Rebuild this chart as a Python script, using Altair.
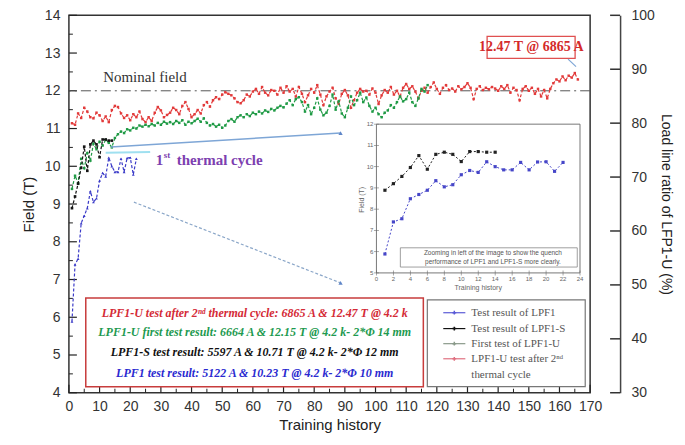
import altair as alt
import pandas as pd

# ---------------- data ----------------
lpf1 = [5.89, 7.40, 7.55, 8.49, 8.69, 8.89, 9.34, 9.05, 9.15, 9.62, 9.82, 9.73,
        10.23, 10.00, 9.85, 9.85, 10.20, 9.85, 10.22, 10.23, 9.78, 10.20]
lpf1s = [8.89, 9.20, 9.54, 9.96, 10.52, 9.88, 10.58, 10.68, 10.58, 10.24, 10.71,
         10.71, 10.68, 10.68]
lpf1u_first = [
    9.40, 9.75, 9.55, 10.20, 9.95, 10.35, 10.15, 10.60, 10.45, 10.65,
    10.55, 10.70, 10.62, 10.50, 10.75, 10.85, 10.92, 10.88, 10.98, 10.95,
    11.02, 11.00, 11.08, 11.05, 11.10, 11.06, 11.12, 11.08, 11.15, 11.10,
    11.18, 11.13, 11.17, 11.12, 11.20, 11.15, 11.22, 11.10, 11.18, 11.14,
    11.20, 11.26, 11.18, 11.27, 11.15, 11.08, 11.12, 11.05, 11.10, 11.02,
    11.08, 11.20, 11.25, 11.18, 11.30, 11.35, 11.30, 11.38, 11.33, 11.42,
    11.38, 11.45, 11.40, 11.48, 11.44, 11.52, 11.48, 11.55, 11.60, 11.56,
    11.66, 11.75, 11.62, 11.78, 11.83, 11.70, 11.45, 11.62, 11.38, 11.55,
    11.80, 11.50, 11.35, 11.42, 11.60, 11.90, 11.50, 11.72, 11.40, 11.30,
    11.55, 11.85, 11.62, 11.75, 11.95, 11.70, 11.82, 11.60, 11.45, 11.55,
    11.38, 11.30, 11.42, 11.48, 11.62, 11.55, 11.70, 11.85, 11.72, 11.78,
    11.95, 11.70, 11.60, 11.80, 12.05, 11.98, 12.15]
lpf1u_second = [
    11.14, 11.10, 11.40, 11.28, 11.55, 11.45, 11.30, 11.27, 11.42, 11.35,
    11.20, 11.32, 11.17, 11.49, 11.60, 11.57, 11.40, 11.28, 11.35, 11.22,
    11.38, 11.30, 11.45, 11.25, 11.17, 11.30, 11.20, 11.42, 11.57, 11.48,
    11.30, 11.36, 11.42, 11.55, 11.49, 11.38, 11.60, 11.70, 11.52, 11.30,
    11.38, 11.49, 11.40, 11.62, 11.70, 11.58, 11.75, 11.83, 11.78, 11.90,
    11.96, 11.92, 11.88, 11.80, 11.70, 11.67, 11.75, 11.90, 11.85, 11.98,
    12.05, 11.92, 12.10, 11.95, 11.88, 12.02, 12.00, 11.90, 12.08, 11.95,
    12.12, 11.98, 12.05, 11.85, 12.10, 11.92, 11.70, 11.88, 12.05, 11.95,
    12.15, 11.90, 11.62, 11.85, 11.98, 12.08, 11.80, 11.65, 11.92, 12.02,
    11.88, 11.55, 11.75, 11.95, 12.05, 11.98, 12.00, 11.90, 12.06, 11.95,
    11.65, 11.88, 12.02, 11.95, 12.10, 11.90, 12.00, 11.85, 12.08, 12.18,
    12.05, 12.12, 11.98, 11.80, 12.00, 12.08, 11.95, 12.10, 12.22, 12.05,
    11.92, 12.08, 12.15, 12.02, 12.06, 11.98, 12.12, 12.04, 12.10, 12.20,
    12.08, 11.78, 12.05, 12.12, 12.02, 12.08, 12.04, 12.10, 12.06, 12.00,
    12.12, 12.05, 12.15, 11.95, 12.08, 12.02, 11.75, 12.05, 12.12, 12.00,
    12.08, 11.92, 12.05, 11.85, 12.02, 11.80, 12.05, 12.20, 12.30, 12.25,
    12.38, 12.28, 12.40, 12.35, 12.47, 12.30]
nominal_field = 12.0

x_major = list(range(0, 171, 10))
x_minor = list(range(5, 170, 10))
y_major = list(range(4, 15))
y_minor = [v + 0.5 for v in range(4, 14)]
ratio_ticks = list(range(30, 101, 10))
inset_xticks = list(range(0, 25, 2))
inset_yticks = list(range(5, 13))

box_lines = [
    "LPF1-U test after 2ⁿᵈ thermal cycle: 6865 A & 12.47 T @ 4.2 k",
    "LPF1-U first test result: 6664 A & 12.15 T @ 4.2 k- 2*Φ 14 mm",
    "LPF1-S test result: 5597 A & 10.71 T @ 4.2 k- 2*Φ 12 mm",
    "LPF1 test result: 5122 A & 10.23 T @ 4.2 k- 2*Φ 10 mm",
]
legend_labels = ["Test result of LPF1", "Test result of LPF1-S",
                 "First test of LPF1-U", "LPF1-U test after 2ⁿᵈ"]
note_lines = ["Zooming in left of the image to show the quench",
              "performance of LPF1 and LPF1-S more clearly."]

# ---------------- layout ----------------
W, H = 522, 378
SANS = "Liberation Sans"
SERIF = "Liberation Serif"
RED, GREEN, BLACK, BLUE = "#e23a3a", "#1f9a45", "#151515", "#3b3bc8"

xs = alt.Scale(domain=[0, 170], nice=False, zero=False)
ys = alt.Scale(domain=[4, 14], nice=False, zero=False)


def XQ(f):
    return alt.X(f"{f}:Q", scale=xs, axis=None)


def YQ(f):
    return alt.Y(f"{f}:Q", scale=ys, axis=None)


layers = []

# axes + inward ticks
x_axis = alt.Axis(values=x_major, ticks=False, domain=False, grid=False,
                  labelFont=SANS, labelFontSize=14, labelColor="#333",
                  labelPadding=7, labelFlush=False,
                  title="Training history", titleFont=SANS, titleFontSize=15,
                  titleFontWeight="normal", titleColor="#222", titlePadding=4)
y_axis = alt.Axis(values=y_major, ticks=False, domain=False, grid=False,
                  labelFont=SANS, labelFontSize=14, labelColor="#333",
                  labelPadding=9, labelFlush=False,
                  title="Field (T)", titleFont=SANS, titleFontSize=15,
                  titleFontWeight="normal", titleColor="#222", titlePadding=8)

layers.append(alt.Chart(pd.DataFrame({"v": y_major})).mark_rule(color="#222", strokeWidth=1.2)
              .encode(y=alt.Y("v:Q", scale=ys, axis=y_axis), x=alt.value(0), x2=alt.value(8)))
layers.append(alt.Chart(pd.DataFrame({"v": y_minor})).mark_rule(color="#222", strokeWidth=1)
              .encode(y=YQ("v"), x=alt.value(0), x2=alt.value(4)))
layers.append(alt.Chart(pd.DataFrame({"v": x_major})).mark_rule(color="#222", strokeWidth=1.2)
              .encode(x=alt.X("v:Q", scale=xs, axis=x_axis), y=alt.value(H), y2=alt.value(H - 8)))
layers.append(alt.Chart(pd.DataFrame({"v": x_minor})).mark_rule(color="#222", strokeWidth=1)
              .encode(x=XQ("v"), y=alt.value(H), y2=alt.value(H - 4)))

# nominal field line
layers.append(alt.Chart(pd.DataFrame({"v": [nominal_field]}))
              .mark_rule(color="#555", strokeDash=[10, 4, 2, 4], strokeWidth=1)
              .encode(y=YQ("v")))
layers.append(alt.Chart(pd.DataFrame({"x": [24.8], "y": [12.36], "t": ["Nominal field"]}))
              .mark_text(font=SERIF, fontSize=15, color="#333")
              .encode(x=XQ("x"), y=YQ("y"), text="t:N"))


def series(vals, color, dash, shape, size, width=1.2):
    df = pd.DataFrame({"x": list(range(1, len(vals) + 1)), "y": vals})
    base = alt.Chart(df).encode(x=XQ("x"), y=YQ("y"))
    return [base.mark_line(color=color, strokeDash=dash, strokeWidth=width),
            base.mark_point(color=color, filled=True, shape=shape, size=size, opacity=1)]


layers += series(lpf1u_second, RED, [3, 2], "square", 6)
layers += series(lpf1u_first, GREEN, [3, 2], "square", 6)
layers += series(lpf1s, BLACK, [3, 2], "square", 7)
layers += series(lpf1, BLUE, [3, 2], "triangle-up", 8)

# arrows towards the inset
arrow1 = pd.DataFrame({"x": [13.7, 88.6], "y": [10.51, 10.88]})
arrow2 = pd.DataFrame({"x": [21.2, 88.6], "y": [9.05, 6.91]})
layers.append(alt.Chart(pd.DataFrame({"x": [12.0, 26.5], "y": [10.36, 10.38]}))
              .mark_line(color="#9fe0f0", strokeWidth=2).encode(x=XQ("x"), y=YQ("y")))
layers.append(alt.Chart(arrow1).mark_line(color="#7ea6d6", strokeWidth=1.5)
              .encode(x=XQ("x"), y=YQ("y")))
layers.append(alt.Chart(arrow2).mark_line(color="#8aa6c8", strokeWidth=1.2, strokeDash=[3, 2])
              .encode(x=XQ("x"), y=YQ("y")))
ends = pd.DataFrame({"x": [88.6, 88.6], "y": [10.88, 6.91]})
layers.append(alt.Chart(ends).mark_point(shape="triangle-up", filled=True, size=18,
                                          color="#5f86c8", opacity=1)
              .encode(x=XQ("x"), y=YQ("y")))

# 1st thermal cycle
tc = pd.DataFrame({"x": [28.3], "y": [10.16]})
PURPLE = "#7d3fb0"
layers.append(alt.Chart(tc).mark_text(text="1", font=SERIF, fontWeight="bold", fontSize=15,
                                      color=PURPLE, align="left")
              .encode(x=XQ("x"), y=YQ("y")))
layers.append(alt.Chart(tc).mark_text(text="st", font=SERIF, fontWeight="bold", fontSize=9,
                                      color=PURPLE, align="left", dx=8, dy=-5)
              .encode(x=XQ("x"), y=YQ("y")))
layers.append(alt.Chart(tc).mark_text(text="thermal cycle", font=SERIF, fontWeight="bold",
                                      fontSize=15, color=PURPLE, align="left", dx=21)
              .encode(x=XQ("x"), y=YQ("y")))

# 12.47 T @ 6865 A box
layers.append(alt.Chart(pd.DataFrame({"x": [136.4], "x2": [165.1], "y": [12.86], "y2": [13.44]}))
              .mark_rect(fill="white", stroke="#e05050", strokeWidth=1.3)
              .encode(x=XQ("x"), x2="x2:Q", y=YQ("y"), y2="y2:Q"))
layers.append(alt.Chart(pd.DataFrame({"x": [150.8], "y": [13.15], "t": ["12.47 T @ 6865 A"]}))
              .mark_text(font=SERIF, fontWeight="bold", fontSize=14, color="#d42a2a")
              .encode(x=XQ("x"), y=YQ("y"), text="t:N"))
layers.append(alt.Chart(pd.DataFrame({"x": [162.8, 165.4], "y": [12.84, 12.64]}))
              .mark_line(color="#7ea6d6", strokeWidth=1.2).encode(x=XQ("x"), y=YQ("y")))

# ---------------- inset ----------------
IX0, IX1 = 100.3, 166.7      # inset x 0..24 in main units
IY0, IY1 = 7.175, 11.116     # inset y 5..12 in main units
KX = (IX1 - IX0) / 24
KY = (IY1 - IY0) / 7


def icalc(ch, xf, yf):
    return ch.transform_calculate(mx=f"{IX0} + datum.{xf} * {KX}",
                                  my=f"{IY0} + (datum.{yf} - 5) * {KY}")


layers.append(alt.Chart(pd.DataFrame({"x": [IX0], "x2": [IX1], "y": [IY0], "y2": [IY1]}))
              .mark_rect(fill="white", stroke="#777", strokeWidth=1)
              .encode(x=XQ("x"), x2="x2:Q", y=YQ("y"), y2="y2:Q"))
ixt = pd.DataFrame({"ix": inset_xticks, "iy": [5] * len(inset_xticks),
                    "t": [str(v) for v in inset_xticks]})
iyt = pd.DataFrame({"ix": [0] * len(inset_yticks), "iy": inset_yticks,
                    "t": [str(v) for v in inset_yticks]})
layers.append(icalc(alt.Chart(ixt), "ix", "iy").mark_tick(orient="vertical", size=5, color="#666",
                                                          thickness=0.8)
              .encode(x=XQ("mx"), y=YQ("my")))
layers.append(icalc(alt.Chart(iyt), "ix", "iy").mark_tick(orient="horizontal", size=5, color="#666",
                                                          thickness=0.8)
              .encode(x=XQ("mx"), y=YQ("my")))
layers.append(icalc(alt.Chart(ixt), "ix", "iy").mark_text(font=SANS, fontSize=6, color="#666",
                                                          baseline="top", dy=3)
              .encode(x=XQ("mx"), y=YQ("my"), text="t:N"))
layers.append(icalc(alt.Chart(iyt), "ix", "iy").mark_text(font=SANS, fontSize=6, color="#666",
                                                          align="right", dx=-3)
              .encode(x=XQ("mx"), y=YQ("my"), text="t:N"))
layers.append(alt.Chart(pd.DataFrame({"x": [95.6], "y": [9.11], "t": ["Field (T)"]}))
              .mark_text(font=SANS, fontSize=7, color="#666", angle=270)
              .encode(x=XQ("x"), y=YQ("y"), text="t:N"))
layers.append(alt.Chart(pd.DataFrame({"x": [133.5], "y": [6.77], "t": ["Training history"]}))
              .mark_text(font=SANS, fontSize=7, color="#666")
              .encode(x=XQ("x"), y=YQ("y"), text="t:N"))

for vals, color, shape in [(lpf1s, "#222", "square"), (lpf1, "#4646c8", "square")]:
    d = pd.DataFrame({"ix": list(range(1, len(vals) + 1)), "iy": vals})
    b = icalc(alt.Chart(d), "ix", "iy").encode(x=XQ("mx"), y=YQ("my"))
    layers.append(b.mark_line(color=color, strokeDash=[2, 2], strokeWidth=1))
    layers.append(b.mark_point(color=color, filled=True, shape=shape, size=10, opacity=1))

layers.append(alt.Chart(pd.DataFrame({"x": [108.1], "x2": [165.8], "y": [7.33], "y2": [7.84]}))
              .mark_rect(fill="white", stroke="#888", strokeWidth=0.8)
              .encode(x=XQ("x"), x2="x2:Q", y=YQ("y"), y2="y2:Q"))
layers.append(alt.Chart(pd.DataFrame({"x": [138.3, 138.3], "y": [7.70, 7.47], "t": note_lines}))
              .mark_text(font=SANS, fontSize=6.5, color="#555")
              .encode(x=XQ("x"), y=YQ("y"), text="t:N"))

# ---------------- red text box ----------------
layers.append(alt.Chart(pd.DataFrame({"x": [5.5], "x2": [115.6], "y": [4.16], "y2": [6.51]}))
              .mark_rect(fill="white", stroke="#c83c3c", strokeWidth=1.5)
              .encode(x=XQ("x"), x2="x2:Q", y=YQ("y"), y2="y2:Q"))
box_df = pd.DataFrame({"x": [60.6] * 4, "y": [6.12, 5.61, 5.08, 4.53], "t": box_lines,
                       "c": ["#d42a36", "#1e9a50", "#111111", "#2a2ad0"]})
layers.append(alt.Chart(box_df).mark_text(font=SERIF, fontStyle="italic", fontWeight="bold",
                                          fontSize=12)
              .encode(x=XQ("x"), y=YQ("y"), text="t:N", color=alt.Color("c:N", scale=None)))

# ---------------- legend box ----------------
layers.append(alt.Chart(pd.DataFrame({"x": [116.9], "x2": [168.4], "y": [4.16], "y2": [6.46]}))
              .mark_rect(fill="white", stroke="#777", strokeWidth=1.2)
              .encode(x=XQ("x"), x2="x2:Q", y=YQ("y"), y2="y2:Q"))
leg = pd.DataFrame({"x": [122.1] * 4, "x2": [129.3] * 4, "xm": [125.7] * 4,
                    "y": [6.12, 5.70, 5.30, 4.90], "t": legend_labels,
                    "c": ["#5a5ad6", "#111111", "#8a9a8a", "#e07080"]})
layers.append(alt.Chart(leg).mark_rule(strokeWidth=1.2)
              .encode(x=XQ("x"), x2="x2:Q", y=YQ("y"), color=alt.Color("c:N", scale=None)))
layers.append(alt.Chart(leg).mark_point(shape="cross", filled=True, size=14, opacity=1)
              .encode(x=XQ("xm"), y=YQ("y"), color=alt.Color("c:N", scale=None)))
layers.append(alt.Chart(leg).mark_text(font=SERIF, fontSize=11, color="#555", align="left", dx=6)
              .encode(x=XQ("x2"), y=YQ("y"), text="t:N"))
layers.append(alt.Chart(pd.DataFrame({"x": [129.3], "y": [4.48], "t": ["thermal cycle"]}))
              .mark_text(font=SERIF, fontSize=11, color="#555", align="left", dx=6)
              .encode(x=XQ("x"), y=YQ("y"), text="t:N"))

# ---------------- right axis (load line ratio) ----------------
r_axis = alt.Axis(orient="right", offset=30, values=ratio_ticks, ticks=False, grid=False,
                  domain=True, domainColor="#444", domainWidth=1.5,
                  labelFont=SANS, labelFontSize=14, labelColor="#333", labelPadding=11,
                  labelFlush=False,
                  title="Load line ratio of LFP1-U (%)", titleFont=SANS, titleFontSize=14,
                  titleFontWeight="normal", titleColor="#222", titlePadding=4)
layers.append(alt.Chart(pd.DataFrame({"v": ratio_ticks})).mark_rule(color="#333", strokeWidth=1.5)
              .encode(y=alt.Y("v:Q", scale=alt.Scale(domain=[30, 100], nice=False, zero=False),
                              axis=r_axis),
                      x=alt.value(W + 20), x2=alt.value(W + 30)))

chart = (alt.layer(*layers)
         .resolve_scale(x="independent", y="independent")
         .properties(width=W, height=H,
                     padding={"left": 13, "top": 0, "right": 4, "bottom": 0},
                     background="white")
         .configure_view(stroke="#333", strokeWidth=1.5))

chart.save("out.html", embed_options={"renderer": "svg", "actions": False})
